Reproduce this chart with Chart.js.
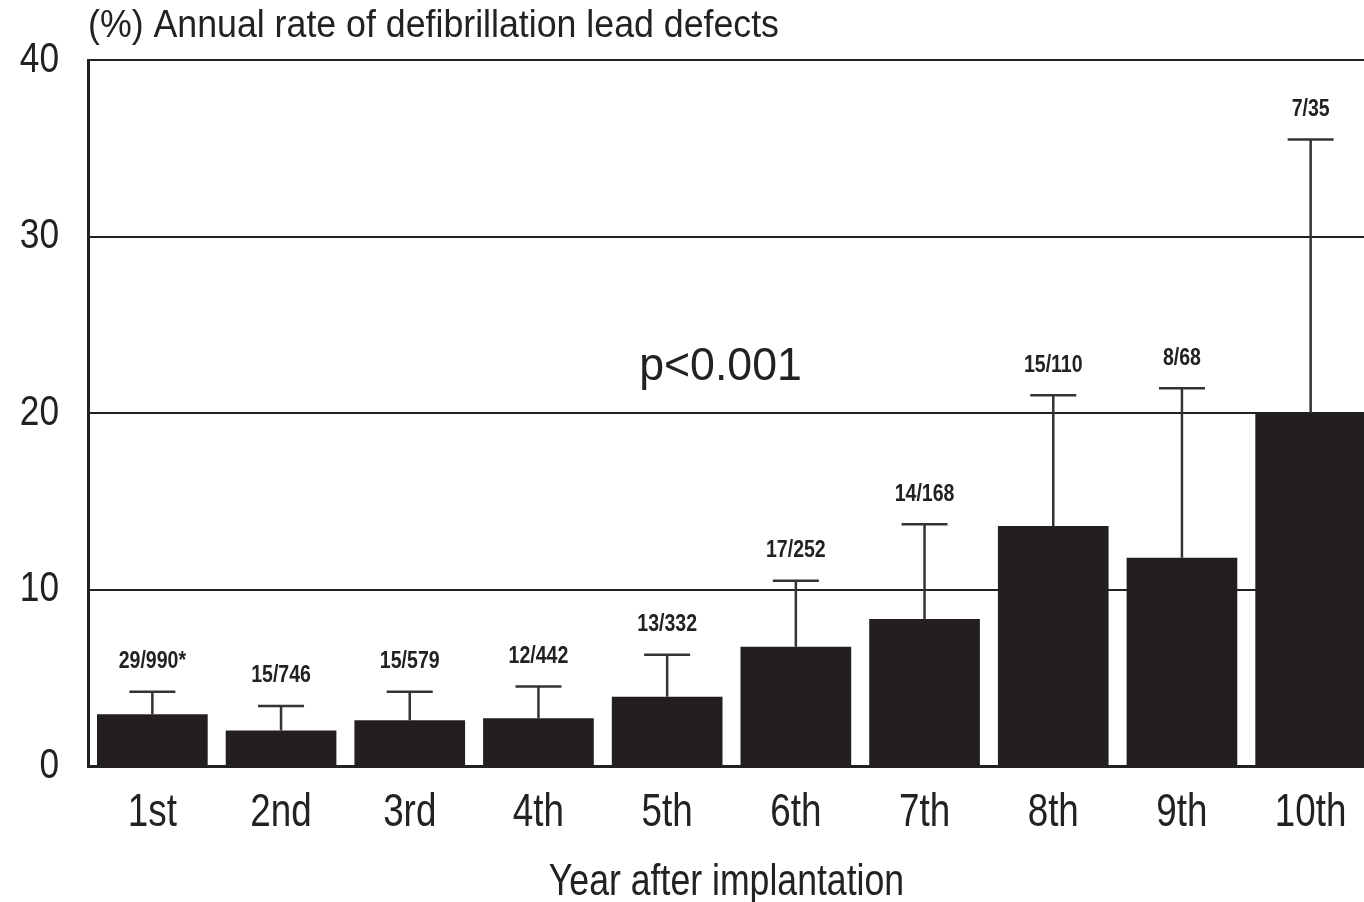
<!DOCTYPE html>
<html>
<head>
<meta charset="utf-8">
<script src="https://cdn.jsdelivr.net/npm/chart.js@4.4.1/dist/chart.umd.min.js"></script>
<style>
  body { margin: 0; background: #fff; overflow: hidden; }
  #wrap { width: 1380px; height: 902px; }
</style>
</head>
<body>
<div id="wrap"><canvas id="grafico"></canvas></div>
<script>
// dados
const anos = ["1st", "2nd", "3rd", "4th", "5th", "6th", "7th", "8th", "9th", "10th"];
const taxas = [2.93, 2.01, 2.59, 2.71, 3.92, 6.75, 8.33, 13.6, 11.8, 20.0];
const limiteSuperior = [4.2, 3.4, 4.2, 4.5, 6.3, 10.5, 13.7, 21.0, 21.4, 35.5];
const rotulosN = ["29/990*", "15/746", "15/579", "12/442", "13/332", "17/252", "14/168", "15/110", "8/68", "7/35"];
const ticksY = [0, 10, 20, 30, 40];

const fonte = "Arial, 'Liberation Sans', sans-serif";
const corBarra = "#231f20";
const corTexto = "#222";

// texto "estreito" (a figura original usa uma fonte condensada)
const textoEstreito = (ctx, texto, x, y, fator) => {
  ctx.save();
  ctx.translate(x, y);
  ctx.scale(fator, 1);
  ctx.fillText(texto, 0, 0);
  ctx.restore();
};

// barras de erro + rotulos n/N + textos extras
const pluginExtras = {
  id: "extras",
  afterDatasetsDraw(chart) {
    const { ctx, scales, chartArea } = chart;
    const x = scales.x, y = scales.y;
    ctx.save();
    ctx.strokeStyle = "#333";
    ctx.lineWidth = 2.5;
    ctx.fillStyle = corTexto;
    ctx.textBaseline = "middle";
    ctx.textAlign = "center";

    limiteSuperior.forEach((lim, i) => {
      const cx = x.getPixelForValue(i);
      const yTopo = y.getPixelForValue(taxas[i]);
      const yLim = y.getPixelForValue(lim);
      ctx.beginPath();
      ctx.moveTo(cx, yTopo);
      ctx.lineTo(cx, yLim);
      ctx.moveTo(cx - 23, yLim);
      ctx.lineTo(cx + 23, yLim);
      ctx.stroke();

      ctx.font = "bold 23px " + fonte;
      textoEstreito(ctx, rotulosN[i], cx, yLim - 30, 0.85);
    });

    // rotulos do eixo x
    ctx.font = "46px " + fonte;
    anos.forEach((ano, i) => {
      textoEstreito(ctx, ano, x.getPixelForValue(i), chartArea.bottom + 47, 0.8);
    });

    // rotulos do eixo y
    ctx.textAlign = "right";
    ctx.font = "42px " + fonte;
    y.ticks.forEach((t) => {
      textoEstreito(ctx, String(t.value), chartArea.left - 29, y.getPixelForValue(t.value), 0.84);
    });

    // titulo do eixo x
    ctx.textAlign = "center";
    ctx.font = "44px " + fonte;
    textoEstreito(ctx, "Year after implantation", (chartArea.left + chartArea.right) / 2 - 5, chartArea.bottom + 117, 0.81);

    // titulo do eixo y
    ctx.textAlign = "left";
    ctx.font = "38px " + fonte;
    textoEstreito(ctx, "(%) Annual rate of defibrillation lead defects", chartArea.left, 27, 0.94);

    // p-valor
    ctx.font = "47px " + fonte;
    ctx.textAlign = "center";
    textoEstreito(ctx, "p<0.001", x.getPixelForValue(4.5) - 11, y.getPixelForValue(22.6), 0.95);
    ctx.restore();
  }
};

document.addEventListener("DOMContentLoaded", () => {
  const ctx = document.getElementById("grafico").getContext("2d");

  new Chart(ctx, {
    type: "bar",
    data: {
      labels: anos,
      datasets: [
        {
          data: taxas,
          backgroundColor: corBarra,
          borderWidth: 0,
          barPercentage: 0.86,
          categoryPercentage: 1.0
        }
      ]
    },
    options: {
      responsive: true,
      maintainAspectRatio: false,
      animation: false,
      layout: { padding: { top: 60, right: 5, left: 0, bottom: 0 } },
      plugins: {
        legend: { display: false },
        tooltip: { enabled: false }
      },
      scales: {
        x: {
          grid: { display: false, drawTicks: false },
          border: { display: true, color: "#222", width: 3 },
          ticks: { display: false },
          afterFit(scale) { scale.height = 136; }
        },
        y: {
          min: 0,
          max: 40,
          afterBuildTicks(scale) { scale.ticks = ticksY.map((v) => ({ value: v })); },
          grid: { color: "#222", lineWidth: 2, drawTicks: false },
          border: { display: true, color: "#222", width: 3 },
          ticks: { display: false },
          afterFit(scale) { scale.width = 88; }
        }
      }
    },
    plugins: [pluginExtras]
  });
});
</script>
</body>
</html>
